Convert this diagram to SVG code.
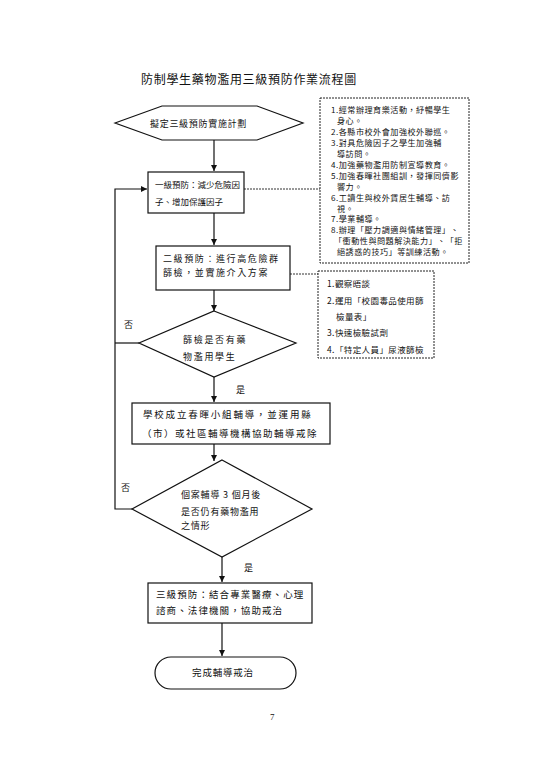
<svg xmlns="http://www.w3.org/2000/svg" width="543" height="768" viewBox="0 0 543 768">
<style>
text{font-family:"Noto Sans CJK TC","Noto Sans CJK SC",sans-serif;fill:#111}
.box{fill:#fff;stroke:#111;stroke-width:1.2}
.note{fill:#fff;stroke:#222;stroke-width:1;stroke-dasharray:2 1}
.ln{fill:none;stroke:#111;stroke-width:1.2}
.dl{fill:none;stroke:#333;stroke-width:1;stroke-dasharray:2 1}
.t9{font-size:9px}
.nt{font-size:8.1px;letter-spacing:0.5px}
</style>
<defs>
<marker id="ah" markerWidth="8" markerHeight="8" refX="6" refY="3" orient="auto" markerUnits="userSpaceOnUse">
<path d="M0,0 L6,3 L0,6 Z" fill="#111"/>
</marker>
</defs>
<rect width="543" height="768" fill="#fff"/>
<text x="141" y="84" style="font-size:12px;letter-spacing:0.7px">防制學生藥物濫用三級預防作業流程圖</text>

<g id="connectors">
<line class="ln" x1="214" y1="140" x2="214" y2="171" marker-end="url(#ah)"/>
<line class="ln" x1="214" y1="213" x2="214" y2="245" marker-end="url(#ah)"/>
<line class="ln" x1="214" y1="290" x2="214" y2="311" marker-end="url(#ah)"/>
<line class="ln" x1="214" y1="377" x2="214" y2="402" marker-end="url(#ah)"/>
<line class="ln" x1="214" y1="444" x2="214" y2="461" marker-end="url(#ah)"/>
<line class="ln" x1="222" y1="557" x2="222" y2="582" marker-end="url(#ah)"/>
<line class="ln" x1="222" y1="623" x2="222" y2="656" marker-end="url(#ah)"/>
<polyline class="ln" points="132,509 115,509 115,189 147,189" marker-end="url(#ah)"/>
<line class="ln" x1="139" y1="343" x2="115" y2="343"/>
<line class="dl" x1="244" y1="189" x2="320" y2="189"/>
<line class="dl" x1="290" y1="274" x2="318" y2="274"/>
<text x="124" y="328" class="t9">否</text>
<text x="236" y="393" class="t9">是</text>
<text x="121" y="491" class="t9">否</text>
<text x="244" y="571" class="t9">是</text>
</g>

<g id="start">
<polygon class="box" points="115,123 162,106 257,106 303,123 257,140 162,140"/>
<text x="150" y="127" style="font-size:9px;letter-spacing:0.7px">擬定三級預防實施計劃</text>
</g>

<g id="note1">
<rect class="note" x="320" y="98" width="149" height="165"/>
<text class="nt" x="331" y="113">1.經常辦理育樂活動，紓暢學生</text>
<text class="nt" x="337" y="124">身心。</text>
<text class="nt" x="331" y="135">2.各縣市校外會加強校外聯巡。</text>
<text class="nt" x="331" y="146">3.對具危險因子之學生加強輔</text>
<text class="nt" x="337" y="157">導訪問。</text>
<text class="nt" x="331" y="167.5">4.加強藥物濫用防制宣導教育。</text>
<text class="nt" x="331" y="178.5">5.加強春暉社團組訓，發揮同儕影</text>
<text class="nt" x="337" y="189.5">響力。</text>
<text class="nt" x="331" y="200.5">6.工讀生與校外賃居生輔導、訪</text>
<text class="nt" x="337" y="211.5">視。</text>
<text class="nt" x="331" y="222">7.學業輔導。</text>
<text class="nt" x="331" y="233">8.辦理「壓力調適與情緒管理」、</text>
<text class="nt" x="334" y="244">「衝動性與問題解決能力」、「拒</text>
<text class="nt" x="337" y="255">絕誘惑的技巧」等訓練活動。</text>
</g>

<g id="level1">
<rect class="box" x="148" y="172" width="96" height="41"/>
<text x="155" y="188" style="font-size:8.5px">一級預防：減少危險因</text>
<text x="155" y="205" style="font-size:8.5px">子、增加保護因子</text>
</g>

<g id="level2">
<rect class="box" x="156" y="246" width="134" height="44"/>
<text x="163" y="262" style="font-size:9px;letter-spacing:1.6px">二級預防：進行高危險群</text>
<text x="163" y="276" style="font-size:9px;letter-spacing:1.6px">篩檢，並實施介入方案</text>
</g>

<g id="note2">
<rect class="note" x="318" y="271" width="116" height="87"/>
<text x="327" y="287" style="font-size:8.5px;letter-spacing:0.4px">1.觀察晤談</text>
<text x="327" y="304" style="font-size:8.5px;letter-spacing:0.4px">2.運用「校園毒品使用篩</text>
<text x="336" y="320" style="font-size:8.5px;letter-spacing:0.4px">檢量表」</text>
<text x="327" y="336" style="font-size:8.5px;letter-spacing:0.4px">3.快速檢驗試劑</text>
<text x="327" y="353" style="font-size:8.5px;letter-spacing:0.4px">4.「特定人員」尿液篩檢</text>
</g>

<g id="decision1">
<polygon class="box" points="214,311 296,343 214,377 139,343"/>
<text x="183" y="343" style="font-size:9px;letter-spacing:1.7px">篩檢是否有藥</text>
<text x="183" y="360" style="font-size:9px;letter-spacing:1.7px">物濫用學生</text>
</g>

<g id="counsel">
<rect class="box" x="132" y="403" width="198" height="41"/>
<text x="143" y="418" style="font-size:9.5px;letter-spacing:1.8px">學校成立春暉小組輔導，並運用縣</text>
<text x="142" y="437" style="font-size:9.5px;letter-spacing:1.5px">（市）或社區輔導機構協助輔導戒除</text>
</g>

<g id="decision2">
<polygon class="box" points="222,460 312,509 222,557 132,509"/>
<text x="181" y="498" style="font-size:9px;letter-spacing:0.8px">個案輔導 3 個月後</text>
<text x="181" y="515" style="font-size:9px;letter-spacing:0.8px">是否仍有藥物濫用</text>
<text x="181" y="529" style="font-size:9px;letter-spacing:0.8px">之情形</text>
</g>

<g id="level3">
<rect class="box" x="148" y="583" width="164" height="40"/>
<text x="156" y="598" style="font-size:9.5px;letter-spacing:1.1px">三級預防：結合專業醫療、心理</text>
<text x="156" y="614" style="font-size:9.5px;letter-spacing:1.1px">諮商、法律機關，協助戒治</text>
</g>

<g id="end">
<rect class="box" x="155" y="657" width="141" height="32" rx="16" ry="16"/>
<text x="223" y="676" text-anchor="middle" style="font-size:9.5px;letter-spacing:0.8px">完成輔導戒治</text>
</g>

<text x="270" y="720" style="font-family:'Liberation Serif',serif;font-size:9px">7</text>
</svg>
